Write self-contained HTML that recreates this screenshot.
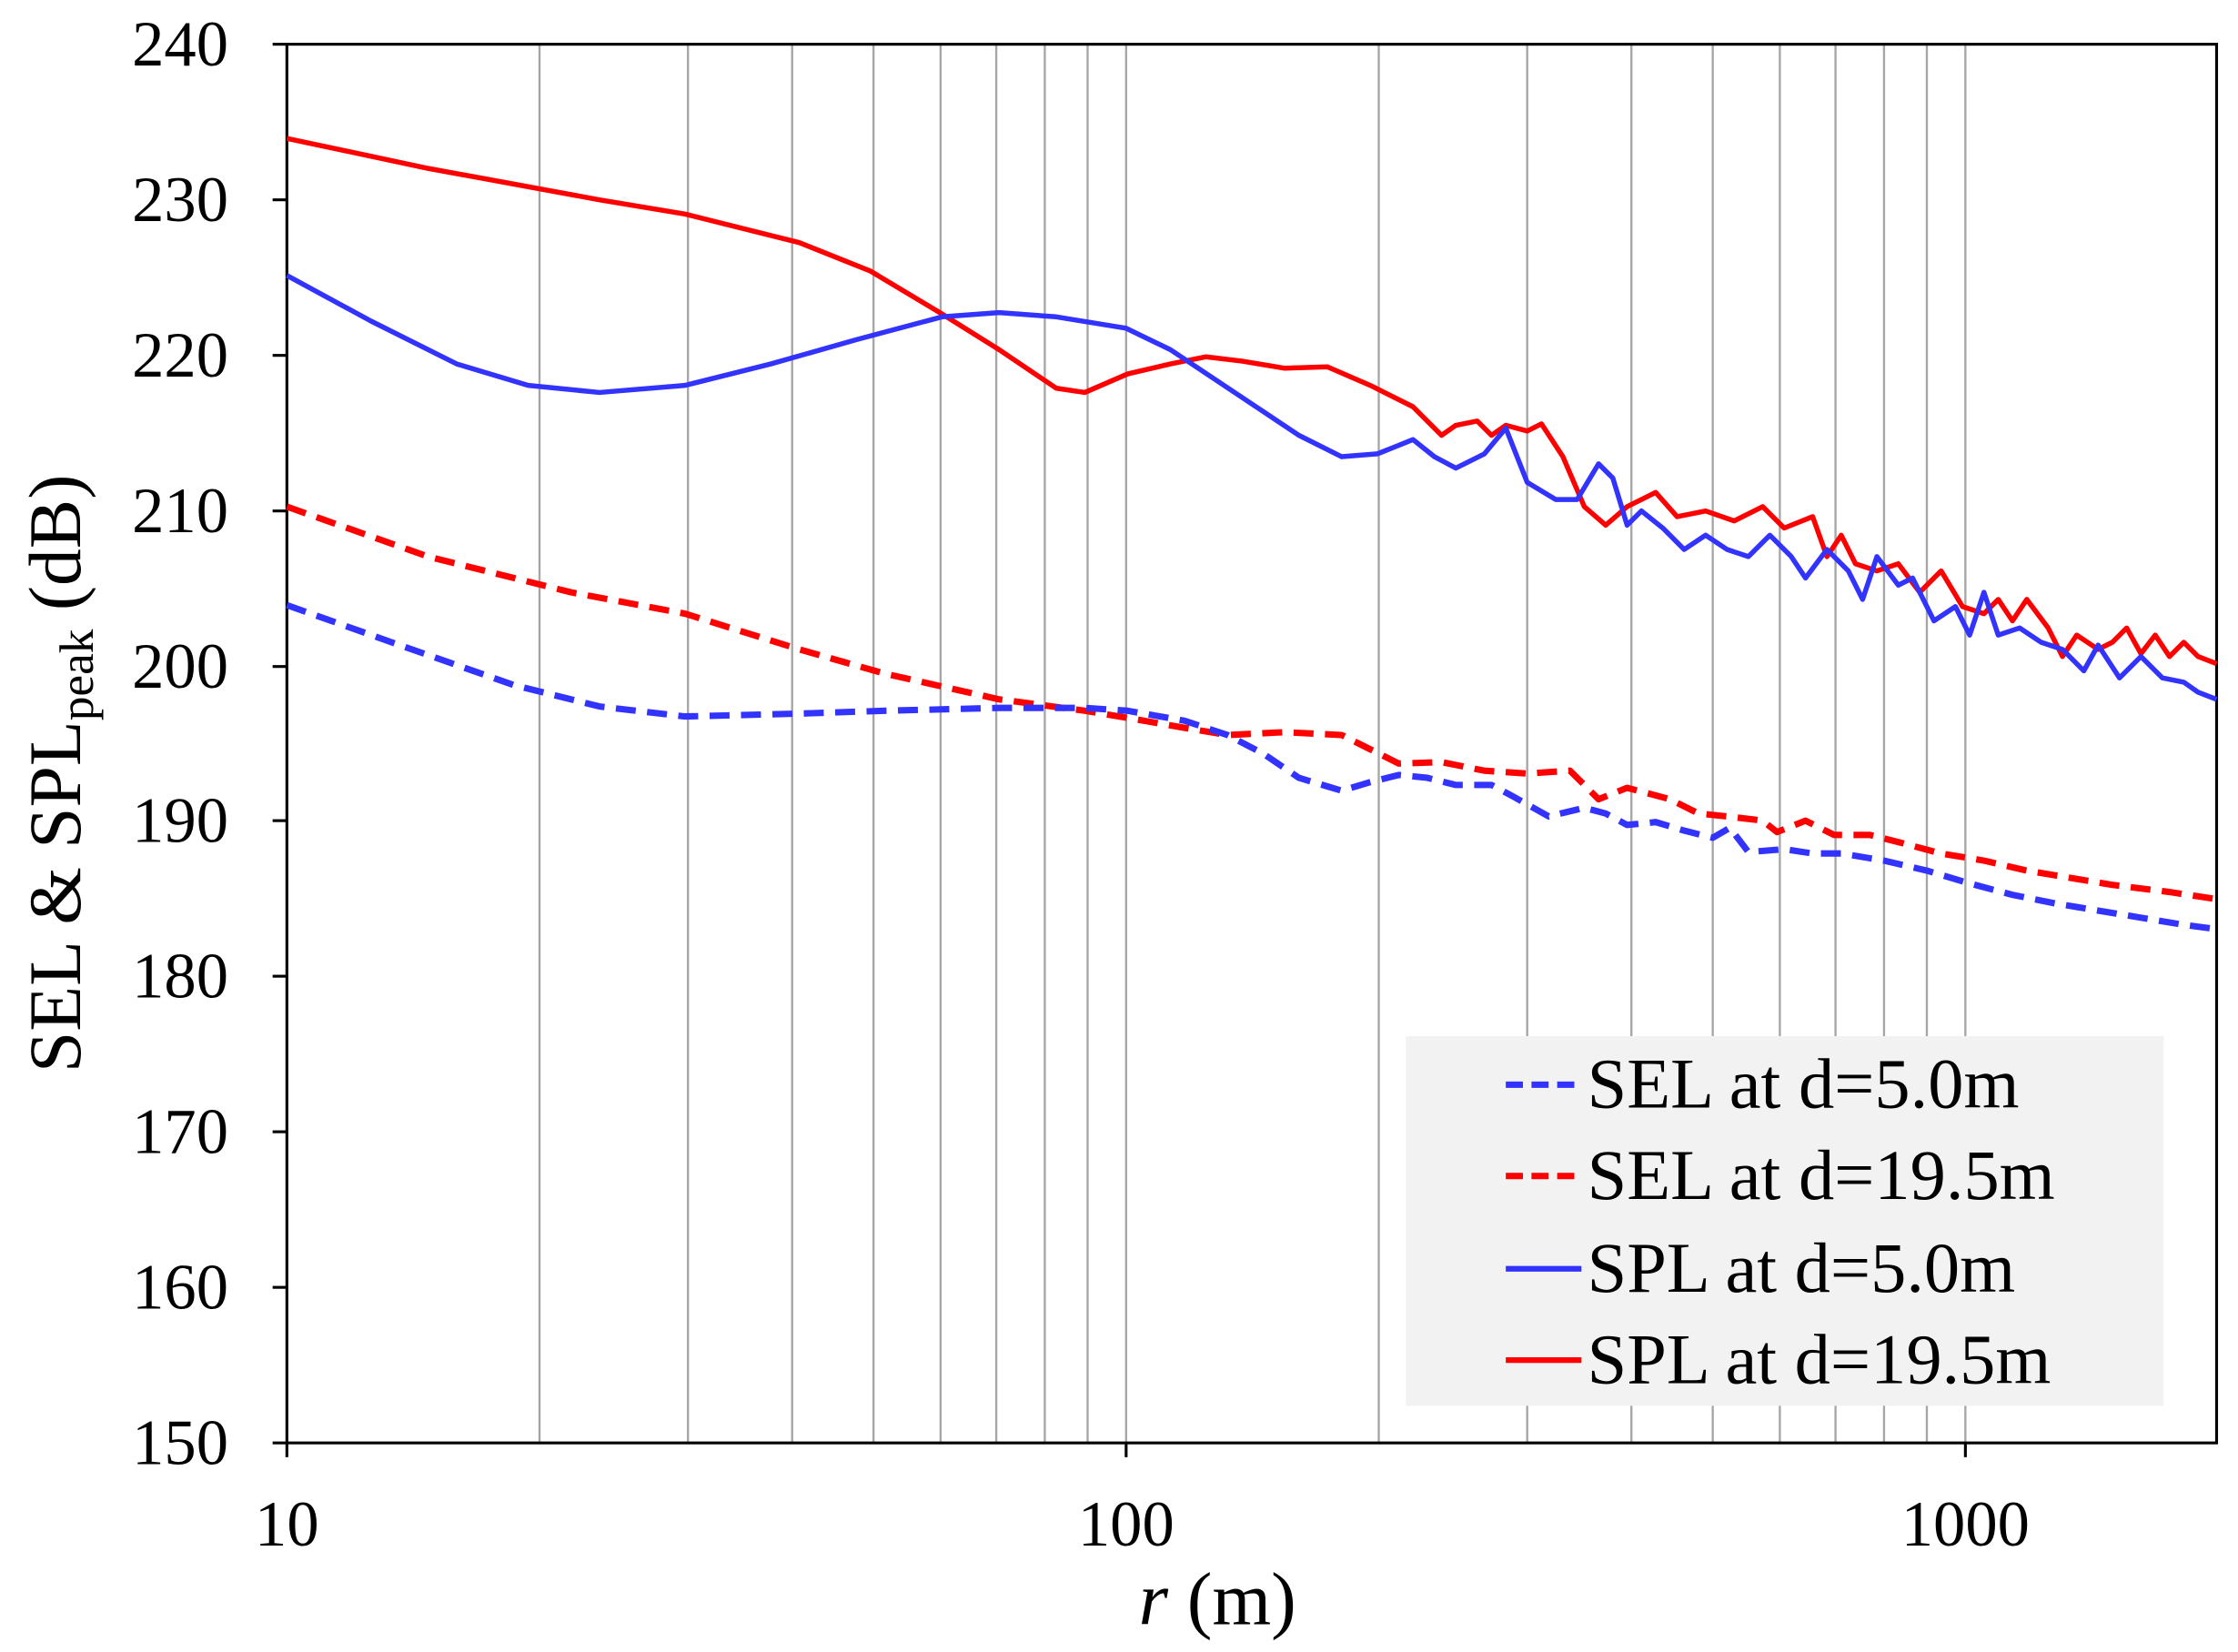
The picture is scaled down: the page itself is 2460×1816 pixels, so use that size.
<!DOCTYPE html>
<html><head><meta charset="utf-8"><style>html,body{margin:0;padding:0;background:#fff}svg{display:block}</style></head>
<body>
<svg width="2460" height="1816" viewBox="0 0 1568 1157.5" preserveAspectRatio="none" xmlns="http://www.w3.org/2000/svg" font-family="Liberation Serif, serif">
<rect width="1568" height="1158" fill="#fff"/>
<g stroke="#a6a6a6" stroke-width="1.5">
<line x1="378" y1="31" x2="378" y2="1011"/><line x1="482" y1="31" x2="482" y2="1011"/><line x1="555" y1="31" x2="555" y2="1011"/><line x1="612" y1="31" x2="612" y2="1011"/><line x1="659" y1="31" x2="659" y2="1011"/><line x1="698" y1="31" x2="698" y2="1011"/><line x1="732" y1="31" x2="732" y2="1011"/><line x1="762" y1="31" x2="762" y2="1011"/><line x1="789" y1="31" x2="789" y2="1011"/>
<line x1="966" y1="31" x2="966" y2="1011"/><line x1="1070" y1="31" x2="1070" y2="1011"/><line x1="1143" y1="31" x2="1143" y2="1011"/><line x1="1200" y1="31" x2="1200" y2="1011"/><line x1="1247" y1="31" x2="1247" y2="1011"/><line x1="1286" y1="31" x2="1286" y2="1011"/><line x1="1320" y1="31" x2="1320" y2="1011"/><line x1="1350" y1="31" x2="1350" y2="1011"/><line x1="1377" y1="31" x2="1377" y2="1011"/>
</g>
<g stroke="#000" stroke-width="2">
<rect x="201" y="31" width="1352" height="980" fill="none"/>
<line x1="191" y1="31" x2="201" y2="31"/><line x1="191" y1="140" x2="201" y2="140"/><line x1="191" y1="249" x2="201" y2="249"/><line x1="191" y1="358" x2="201" y2="358"/><line x1="191" y1="467" x2="201" y2="467"/><line x1="191" y1="575" x2="201" y2="575"/><line x1="191" y1="684" x2="201" y2="684"/><line x1="191" y1="793" x2="201" y2="793"/><line x1="191" y1="902" x2="201" y2="902"/><line x1="191" y1="1011" x2="201" y2="1011"/>
<line x1="201" y1="1011" x2="201" y2="1021"/><line x1="789" y1="1011" x2="789" y2="1021"/><line x1="1377" y1="1011" x2="1377" y2="1021"/>
</g>
<g font-size="45" text-anchor="end" fill="#000">
<text x="160" y="46">240</text><text x="160" y="155">230</text><text x="160" y="264">220</text><text x="160" y="373">210</text><text x="160" y="482">200</text><text x="160" y="590">190</text><text x="160" y="699">180</text><text x="160" y="808">170</text><text x="160" y="917">160</text><text x="160" y="1026">150</text>
</g>
<g font-size="45" text-anchor="middle"><text x="201" y="1083">10</text><text x="789" y="1083">100</text><text x="1377" y="1083">1000</text></g>
<text x="853" y="1138" font-size="53" text-anchor="middle"><tspan font-style="italic">r</tspan> (m)</text>
<text transform="translate(56,542) rotate(-90)" font-size="52" text-anchor="middle">SEL &amp; SPL<tspan font-size="34" dy="9">peak</tspan><tspan dy="-9"> (dB)</tspan></text>
<g fill="none" stroke-width="3.5" stroke-linejoin="round">
<polyline stroke="#ff0000" points="201,97 300,118 420,140 480,150 560,170 610,190 660,220 700,245 740,272 760,275 790,262 820,255 845,250 870,253 900,258 930,257 960,270 990,285 1010,305 1020,298 1035,295 1045,305 1055,298 1070,302 1080,297 1095,320 1110,355 1125,368 1140,355 1160,345 1175,362 1195,358 1215,365 1235,355 1250,370 1270,362 1280,390 1290,375 1300,395 1315,400 1330,395 1345,415 1360,400 1375,425 1390,430 1400,420 1410,435 1420,420 1435,440 1445,460 1455,445 1470,455 1480,450 1490,440 1500,458 1510,445 1520,460 1530,450 1540,460 1553,465"/>
<polyline stroke="#3333ff" points="201,193 260,225 320,255 370,270 420,275 480,270 540,255 600,238 660,222 700,219 740,222 789,230 820,245 850,265 880,285 910,305 940,320 965,318 990,308 1005,320 1020,328 1040,318 1055,300 1070,338 1090,350 1105,350 1120,325 1130,335 1140,368 1150,358 1165,370 1180,385 1195,375 1210,385 1225,390 1240,375 1255,390 1265,405 1280,385 1295,400 1305,420 1315,390 1330,410 1340,405 1355,435 1370,425 1380,445 1390,415 1400,445 1415,440 1430,450 1445,455 1460,470 1470,452 1485,475 1500,460 1515,475 1530,478 1540,485 1553,490"/>
<polyline stroke="#ff0000" stroke-width="4.5" stroke-dasharray="14,8" points="201,355 300,390 400,415 480,430 560,455 620,472 700,490 760,498 790,503 830,510 860,515 900,513 940,515 960,525 980,535 1010,534 1040,540 1070,542 1100,540 1120,560 1140,552 1170,560 1190,570 1210,572 1235,575 1245,583 1265,575 1285,585 1310,585 1330,590 1360,598 1390,603 1420,610 1450,615 1480,620 1520,625 1553,630"/>
<polyline stroke="#3333ff" stroke-width="4.5" stroke-dasharray="14,8" points="201,424 280,452 360,480 420,495 480,502 560,500 620,498 700,496 760,496 790,498 830,505 860,515 885,528 910,545 940,554 960,548 980,543 1000,545 1020,550 1045,550 1060,558 1085,572 1110,566 1125,570 1140,578 1160,576 1180,582 1200,587 1212,580 1225,597 1250,595 1270,598 1290,598 1320,603 1350,610 1380,619 1410,627 1440,633 1470,638 1500,643 1530,648 1553,651"/>
</g>
<rect x="985" y="726" width="531" height="259" fill="#f2f2f2"/>
<g stroke-width="4">
<line x1="1055" y1="760" x2="1108" y2="760" stroke="#3333ff" stroke-dasharray="12,6" stroke-width="4.5"/>
<line x1="1055" y1="824" x2="1108" y2="824" stroke="#ff0000" stroke-dasharray="12,6" stroke-width="4.5"/>
<line x1="1055" y1="889" x2="1108" y2="889" stroke="#3333ff"/>
<line x1="1055" y1="953" x2="1108" y2="953" stroke="#ff0000"/>
</g>
<g font-size="50"><text x="1112" y="776">SEL at d=5.0m</text><text x="1112" y="840">SEL at d=19.5m</text><text x="1112" y="905">SPL at d=5.0m</text><text x="1112" y="969">SPL at d=19.5m</text></g>
</svg>
</body></html>
